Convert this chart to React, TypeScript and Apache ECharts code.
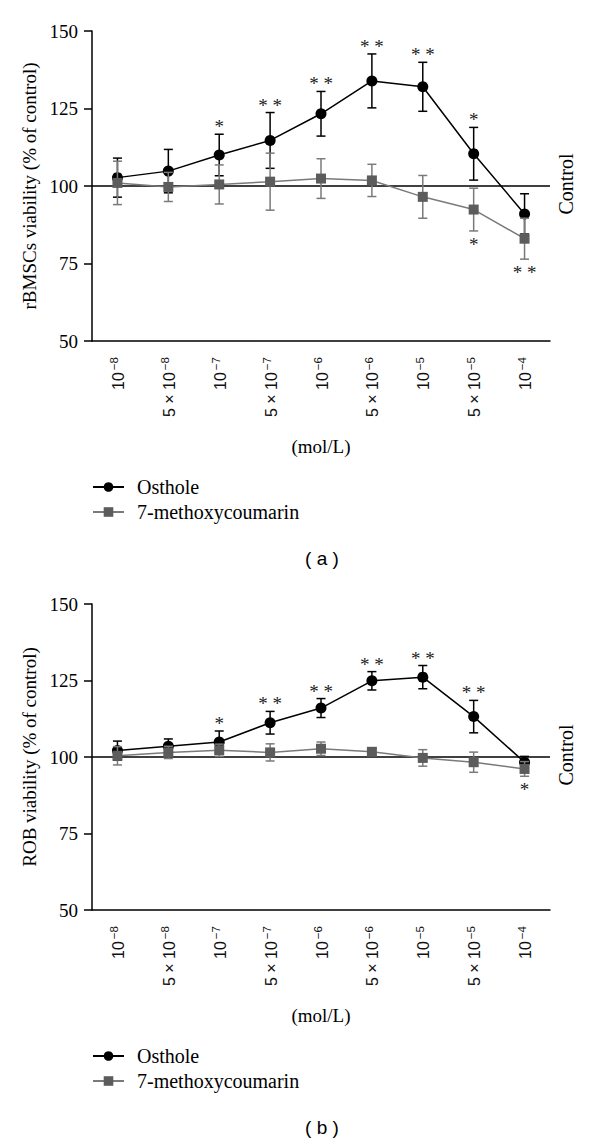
import React, { useEffect, useRef } from "react";
import * as echarts from "echarts";

const categories = ["10⁻⁸", "5 × 10⁻⁸", "10⁻⁷", "5 × 10⁻⁷", "10⁻⁶", "5 × 10⁻⁶", "10⁻⁵", "5 × 10⁻⁵", "10⁻⁴"];
const yTicks = { min: 50, max: 150, interval: 25 };

const ostholeA = [102.7, 104.8, 110.0, 114.7, 123.3, 133.9, 132.0, 110.4, 91.0];
const ostholeAErr = [6.3, 7.0, 6.7, 9.0, 7.2, 8.7, 7.9, 8.5, 6.5];
const methoxyA = [101.0, 99.7, 100.5, 101.4, 102.4, 101.8, 96.5, 92.4, 83.0];
const methoxyAErr = [7.0, 4.7, 6.3, 9.2, 6.4, 5.2, 6.9, 6.9, 6.6];
const ostholeASig = ["", "", "*", "* *", "* *", "* *", "* *", "*", ""];
const methoxyASig = ["", "", "", "", "", "", "", "*", "* *"];

const ostholeB = [102.1, 103.5, 104.9, 111.2, 116.0, 124.9, 126.1, 113.2, 98.3];
const ostholeBErr = [3.1, 2.4, 3.6, 3.7, 3.1, 3.0, 3.8, 5.3, 1.9];
const methoxyB = [100.4, 101.5, 102.2, 101.5, 102.7, 101.7, 99.7, 98.3, 96.1];
const methoxyBErr = [3.0, 2.0, 2.0, 2.8, 2.2, 1.0, 2.7, 3.3, 2.4];
const ostholeBSig = ["", "", "*", "* *", "* *", "* *", "* *", "* *", ""];
const methoxyBSig = ["", "", "", "", "", "", "", "", "*"];

const seriesNames = ["Osthole", "7-methoxycoumarin"];
const yNames = ["rBMSCs viability (% of control)", "ROB viability (% of control)"];
const xName = "(mol/L)";
const controlValue = 100;
const panelLabels = ["( a )", "( b )"];

const SERIF = '"Liberation Serif", "Times New Roman", serif';
const SANS = '"Liberation Sans", Arial, sans-serif';
const BLACK = "#000000";
const GREY_MARK = "#5c5c5c";
const GREY_LINE = "#7a7a7a";

const SUP_MAP: Record<string, string> = {
  "⁻": "−", "⁰": "0", "¹": "1", "²": "2", "³": "3", "⁴": "4", "⁵": "5", "⁶": "6", "⁷": "7", "⁸": "8", "⁹": "9",
};

function tickFormatter(v: string) {
  const m = v.match(/^(.*?)([⁻⁰¹²³⁴⁵⁶⁷⁸⁹]+)$/);
  if (!m) return "{n|" + v + "}";
  const exp = m[2].split("").map((c) => SUP_MAP[c] || c).join("");
  return "{n|" + m[1] + "}{s|" + exp + "}";
}

function errorSeries(gi: number, vals: number[], errs: number[], color: string, z: number) {
  return {
    type: "custom",
    name: "err" + gi + color,
    xAxisIndex: gi,
    yAxisIndex: gi,
    z,
    silent: true,
    data: vals.map((v, i) => [i, v, errs[i]]),
    encode: { x: 0, y: 1 },
    renderItem: (params: any, api: any) => {
      const x = api.value(0);
      const v = api.value(1);
      const e = api.value(2);
      const top = api.coord([x, v + e]);
      const bot = api.coord([x, v - e]);
      const w = 4.5;
      const st = { stroke: color, lineWidth: 1.5 };
      return {
        type: "group",
        children: [
          { type: "line", shape: { x1: top[0], y1: top[1], x2: bot[0], y2: bot[1] }, style: st },
          { type: "line", shape: { x1: top[0] - w, y1: top[1], x2: top[0] + w, y2: top[1] }, style: st },
          { type: "line", shape: { x1: bot[0] - w, y1: bot[1], x2: bot[0] + w, y2: bot[1] }, style: st },
        ],
      };
    },
  };
}

function sigSeries(gi: number, vals: number[], errs: number[], sig: string[], above: boolean) {
  return {
    type: "custom",
    name: "sig" + gi + (above ? "a" : "b"),
    xAxisIndex: gi,
    yAxisIndex: gi,
    z: 10,
    silent: true,
    data: vals.map((v, i) => [i, above ? v + errs[i] : v - errs[i]]),
    encode: { x: 0, y: 1 },
    renderItem: (params: any, api: any) => {
      const s = sig[params.dataIndex];
      if (!s) return null;
      const p = api.coord([api.value(0), api.value(1)]);
      return {
        type: "text",
        x: p[0],
        y: above ? p[1] + 2 : p[1] + 4,
        style: {
          text: s,
          font: "19px " + SERIF,
          fill: "#222",
          textAlign: "center",
          textVerticalAlign: above ? "bottom" : "top",
        },
      };
    },
  };
}

function controlLabelSeries(gi: number) {
  return {
    type: "custom",
    name: "ctrl" + gi,
    xAxisIndex: gi,
    yAxisIndex: gi,
    silent: true,
    clip: false,
    data: [[categories.length - 1, controlValue]],
    encode: { x: 0, y: 1 },
    renderItem: (params: any, api: any) => {
      const p = api.coord([api.value(0), api.value(1)]);
      const bw = api.size([1, 0])[0];
      return {
        type: "text",
        x: p[0] + bw / 2 + 16,
        y: p[1] - 2,
        rotation: Math.PI / 2,
        style: {
          text: "Control",
          font: "20px " + SERIF,
          fill: BLACK,
          textAlign: "center",
          textVerticalAlign: "middle",
        },
      };
    },
  };
}

function lineSeries(gi: number, name: string, vals: number[], isGrey: boolean, z: number, withControl: boolean) {
  const s: any = {
    type: "line",
    name,
    xAxisIndex: gi,
    yAxisIndex: gi,
    data: vals,
    z,
    symbol: isGrey ? "rect" : "circle",
    symbolSize: isGrey ? 10 : 11,
    itemStyle: { color: isGrey ? GREY_MARK : BLACK },
    lineStyle: { color: isGrey ? GREY_LINE : BLACK, width: 1.5 },
    emphasis: { disabled: true },
  };
  if (withControl) {
    s.markLine = {
      silent: true,
      symbol: "none",
      label: { show: false },
      lineStyle: { color: BLACK, type: "solid", width: 1.5 },
      data: [{ yAxis: controlValue }],
      z: 1,
    };
  }
  return s;
}

export default function App() {
  const ref = useRef<HTMLDivElement>(null);
  useEffect(() => {
    document.body.style.margin = "0";
    const chart = echarts.init(ref.current!, undefined, { renderer: "svg" });
    const grids = [
      { left: 92, right: 50, top: 31, bottom: 1143 - 341 },
      { left: 92, right: 50, top: 604, bottom: 1143 - 910 },
    ];
    const xAxis = grids.map((_, gi) => ({
      type: "category",
      gridIndex: gi,
      data: categories,
      boundaryGap: true,
      axisLine: { lineStyle: { color: BLACK, width: 1.5 } },
      axisTick: { alignWithLabel: true, length: 8, lineStyle: { color: BLACK, width: 1.5 } },
      axisLabel: {
        rotate: 90,
        interval: 0,
        color: "#111",
        margin: 16,
        formatter: tickFormatter,
        rich: {
          n: { fontFamily: SANS, fontSize: 16, lineHeight: 18, verticalAlign: "bottom", color: "#111" },
          s: { fontFamily: SANS, fontSize: 11.5, lineHeight: 12, verticalAlign: "top", color: "#111", padding: [0, 0, 0, 2] },
        },
      },
      name: xName,
      nameLocation: "middle",
      nameGap: 96,
      nameTextStyle: { fontFamily: SERIF, fontSize: 19, color: BLACK },
    }));
    const yAxis = grids.map((_, gi) => ({
      type: "value",
      gridIndex: gi,
      min: yTicks.min,
      max: yTicks.max,
      interval: yTicks.interval,
      axisLine: { show: true, lineStyle: { color: BLACK, width: 1.5 } },
      axisTick: { show: true, length: 8, lineStyle: { color: BLACK, width: 1.5 } },
      splitLine: { show: false },
      axisLabel: { fontFamily: SERIF, fontSize: 19, color: BLACK, margin: 14 },
      name: yNames[gi],
      nameLocation: "middle",
      nameGap: 51,
      nameTextStyle: { fontFamily: SERIF, fontSize: 19, color: BLACK },
    }));
    const series: any[] = [
      errorSeries(0, ostholeA, ostholeAErr, BLACK, 2),
      lineSeries(0, seriesNames[0], ostholeA, false, 3, true),
      errorSeries(0, methoxyA, methoxyAErr, GREY_LINE, 4),
      lineSeries(0, seriesNames[1], methoxyA, true, 5, false),
      sigSeries(0, ostholeA, ostholeAErr, ostholeASig, true),
      sigSeries(0, methoxyA, methoxyAErr, methoxyASig, false),
      controlLabelSeries(0),
      errorSeries(1, ostholeB, ostholeBErr, BLACK, 2),
      lineSeries(1, seriesNames[0], ostholeB, false, 3, true),
      errorSeries(1, methoxyB, methoxyBErr, GREY_LINE, 4),
      lineSeries(1, seriesNames[1], methoxyB, true, 5, false),
      sigSeries(1, ostholeB, ostholeBErr, ostholeBSig, true),
      sigSeries(1, methoxyB, methoxyBErr, methoxyBSig, false),
      controlLabelSeries(1),
    ];
    const legendTops = [472, 1041];
    chart.setOption({
      animation: false,
      grid: grids,
      xAxis,
      yAxis,
      series,
      legend: legendTops.map((t) => ({
        data: seriesNames,
        orient: "vertical",
        left: 87,
        top: t,
        itemWidth: 31,
        itemHeight: 12,
        itemGap: 5,
        selectedMode: false,
        textStyle: { fontFamily: SERIF, fontSize: 20, color: BLACK, padding: [0, 0, 0, 8] },
      })),
      graphic: [
        { type: "text", x: 322, y: 558, style: { text: panelLabels[0], font: "19px " + SANS, fill: BLACK, textAlign: "center", textVerticalAlign: "middle" } },
        { type: "text", x: 322, y: 1127, style: { text: panelLabels[1], font: "19px " + SANS, fill: BLACK, textAlign: "center", textVerticalAlign: "middle" } },
      ],
    });
    return () => chart.dispose();
  }, []);
  return <div ref={ref} style={{ width: 600, height: 1143 }} />;
}
